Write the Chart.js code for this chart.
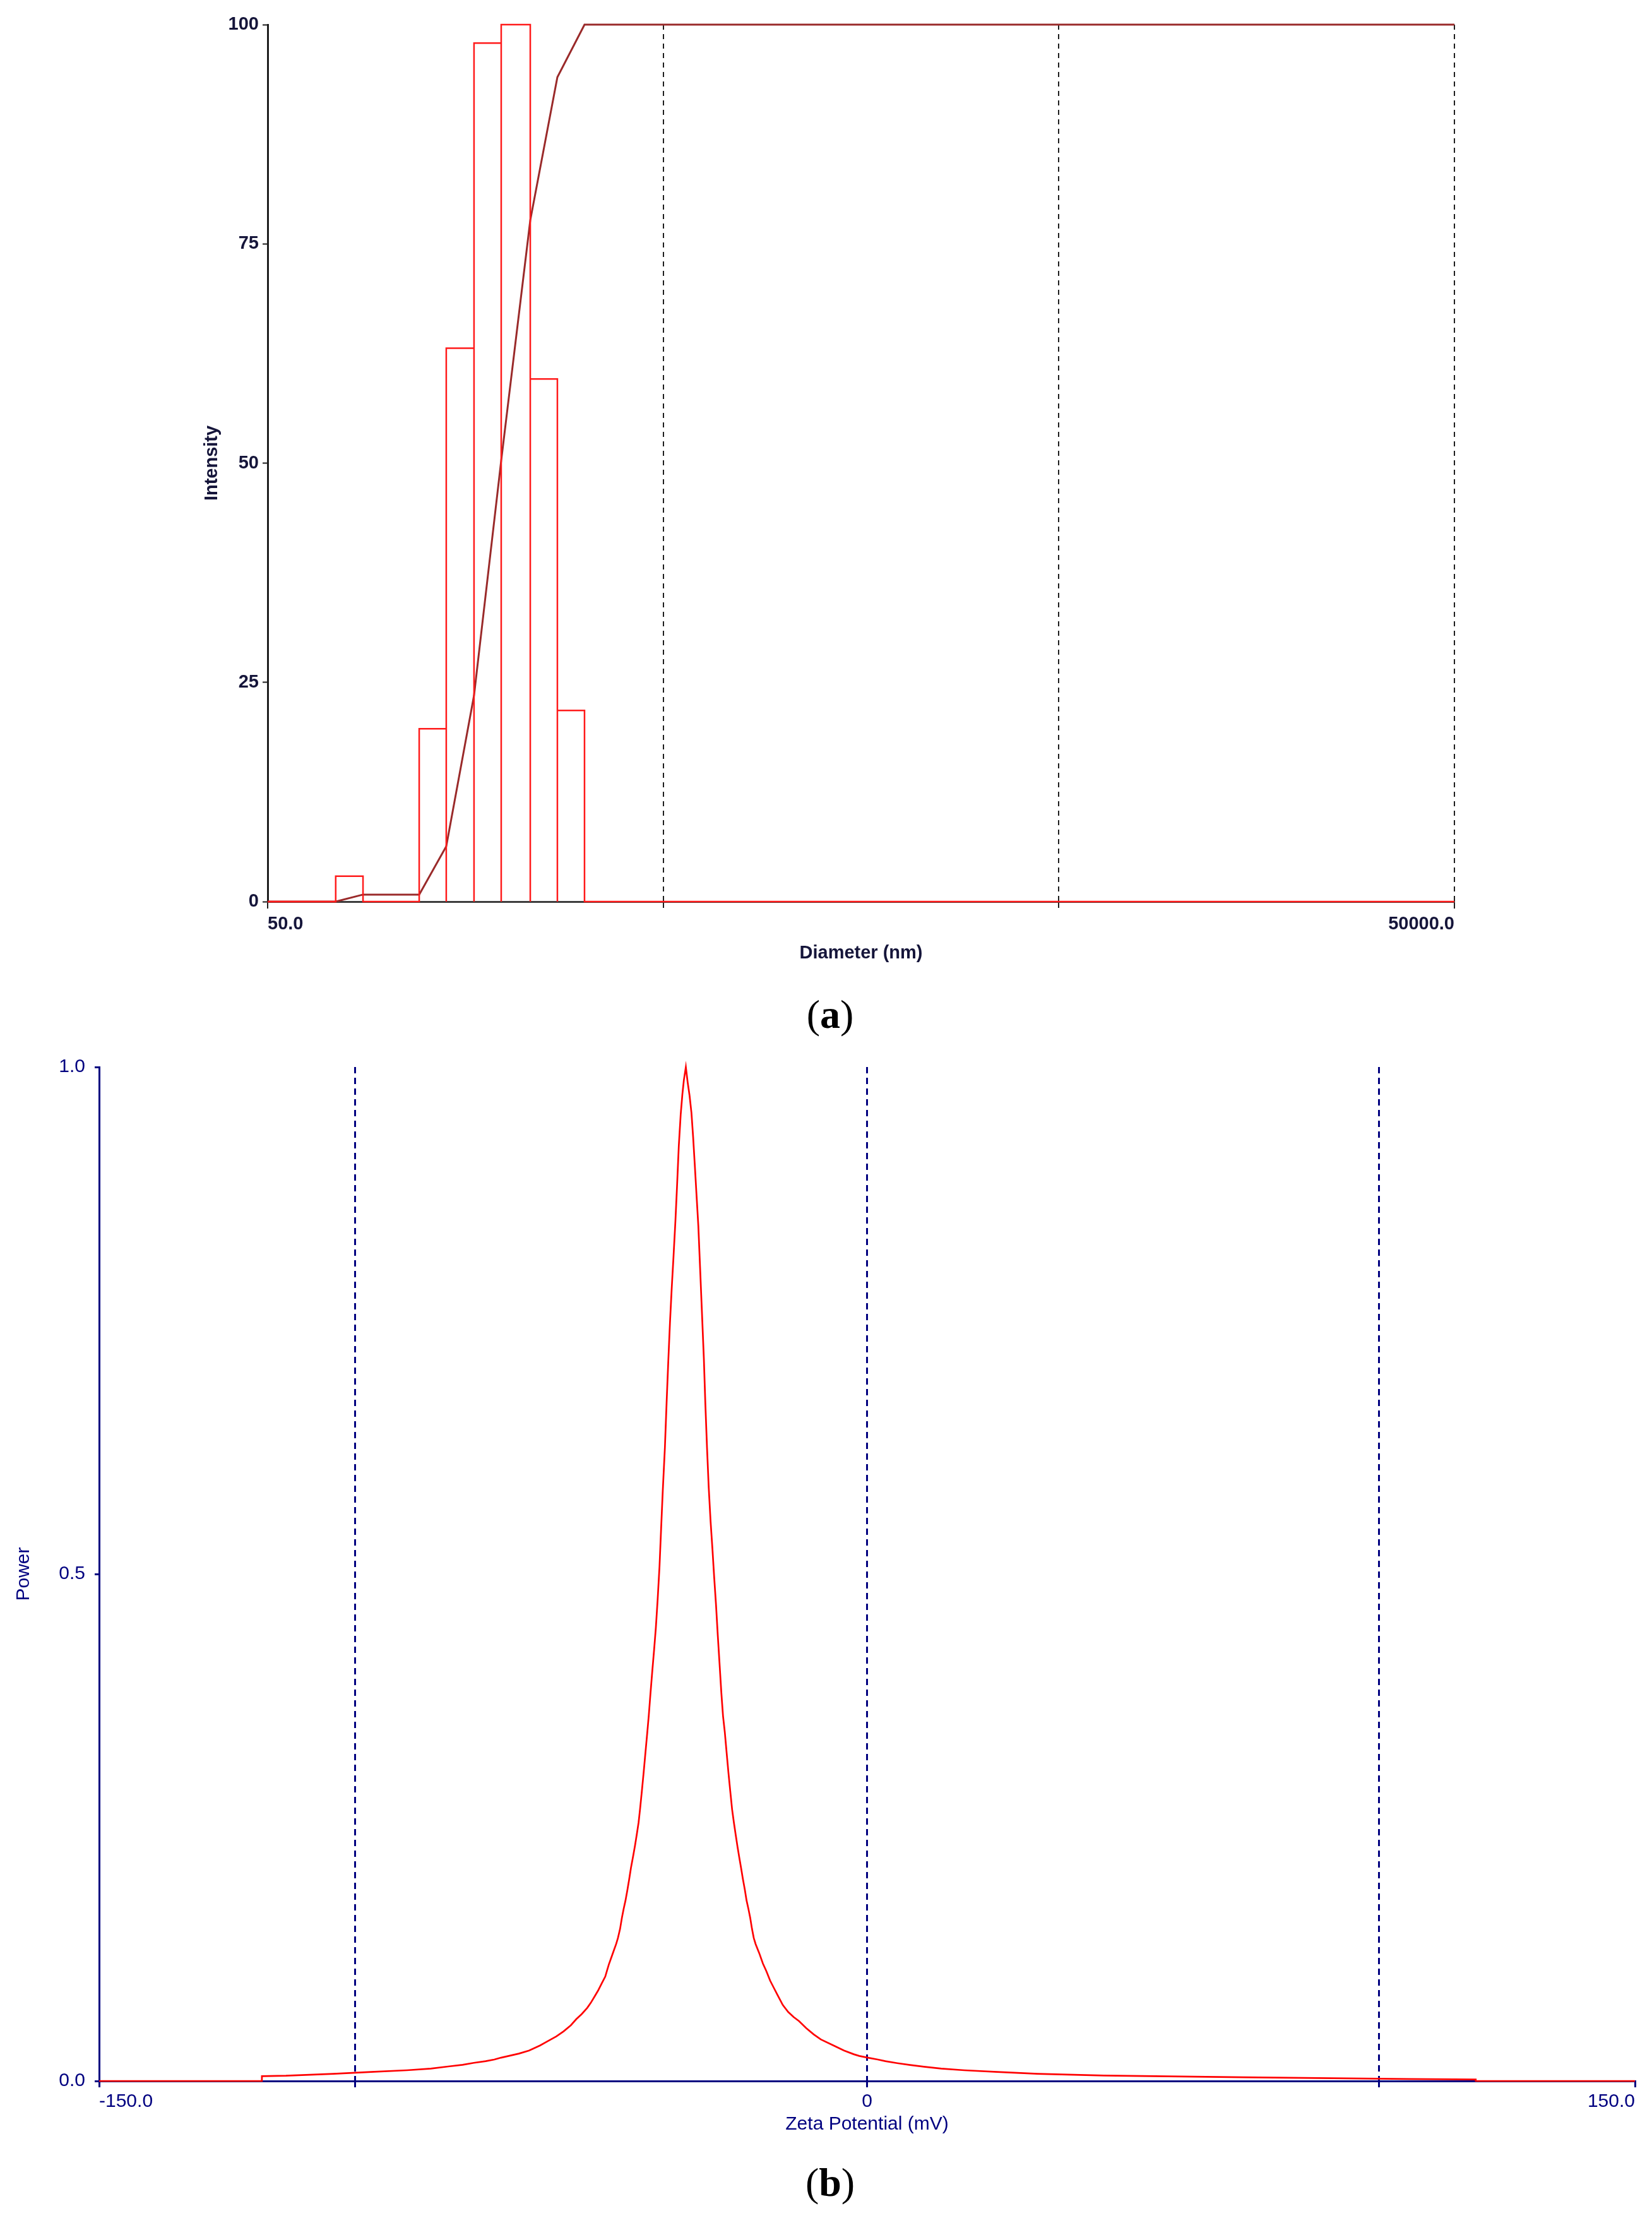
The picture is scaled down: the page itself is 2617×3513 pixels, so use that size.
<!DOCTYPE html>
<html>
<head>
<meta charset="utf-8">
<title>Size distribution and zeta potential</title>
<script src="https://cdn.jsdelivr.net/npm/chart.js@4.4.1/dist/chart.umd.min.js"></script>
<style>
  html, body { margin: 0; padding: 0; background: #fff; }
  body { width: 2617px; height: 3513px; position: relative; overflow: hidden; }
  .panel { position: absolute; left: 0; width: 2617px; }
  #sizeBox { top: 0; height: 1560px; }
  #zetaBox { top: 1640px; height: 1780px; }
  .caption {
    position: absolute; left: 1315px; transform: translate(-50%, -50%);
    font-family: 'Liberation Serif', 'DejaVu Serif', serif; font-size: 64px; color: #000;
  }
</style>
</head>
<body>
<div class="panel" id="sizeBox"><canvas id="sizeChart"></canvas></div>
<div class="caption" style="top:1607px">(<b>a</b>)</div>
<div class="panel" id="zetaBox"><canvas id="zetaChart"></canvas></div>
<div class="caption" style="top:3457px">(<b>b</b>)</div>
<script>
// (a) particle size: histogram bins (nm) and intensity, plus the cumulative curve at the bin edges
const binEdges = [74.3, 87.1, 102.7, 120.8, 141.4, 166.2, 194.7, 230.6, 270.0, 316.2];
const binIntensity = [2.9, 0, 0, 19.7, 63.1, 97.9, 100, 59.6, 21.8];
const cumulative = [0, 0.8, 0.8, 0.8, 6.3, 23.5, 50.3, 77.7, 94.0, 100];
const diameterTicks = [50, 500, 5000, 50000];
const diameterLabels = ['50.0', '', '', '50000.0'];
const intensityTicks = [0, 25, 50, 75, 100];

// (b) zeta potential spectrum
const zetaMv = [-150, -118.2, -118.2, -113.5, -104.2, -96.2, -89.9, -85.2, -81.8, -79.0, -76.8, -74.5,
  -72.8, -71.5, -68.0, -66.0, -63.87, -62.47, -60.69, -59.27, -57.85, -56.79, -55.73, -54.67, -53.97,
  -53.26, -52.55, -51.85, -51.13, -50.78, -50.43, -50.07, -49.72, -49.37, -49.01, -48.66, -48.24,
  -47.88, -47.53, -47.18, -46.82, -46.46, -46.12, -45.68, -45.33, -44.98, -44.62, -44.34, -43.98,
  -43.64, -43.28, -42.92, -42.64, -42.32, -41.95, -41.58, -41.25, -40.91, -40.54, -40.22, -39.89,
  -39.48, -39.15, -38.82, -38.50, -38.16, -37.79, -37.42, -37.09, -36.77, -36.40, -36.07, -35.78,
  -35.39, -35.04, -34.67, -34.30, -33.97, -33.64, -33.32, -32.95, -32.61, -32.24, -31.87, -31.59,
  -31.26, -30.92, -30.56, -30.19, -29.86, -29.49, -29.16, -28.79, -28.46, -28.13, -27.78, -27.43,
  -27.07, -26.72, -26.36, -26.01, -25.66, -25.30, -24.94, -24.60, -24.24, -23.88, -23.53, -23.18,
  -22.82, -22.47, -22.12, -21.76, -21.05, -20.35, -19.64, -18.93, -18.22, -17.51, -16.46, -15.39,
  -14.33, -13.27, -11.85, -10.43, -9.03, -6.55, -4.5, -2.6, -1.5, 0.35, 2.1, 3.6, 5.9, 8.4, 11.1,
  14.5, 19.0, 25.4, 33.3, 46.3, 73.7, 105.7, 118.9, 118.9, 150];
const zetaPower = [0, 0, 0.0048, 0.0052, 0.0071, 0.0091, 0.0106, 0.0122, 0.0143, 0.0160, 0.0179, 0.0195,
  0.0212, 0.0230, 0.027, 0.030, 0.035, 0.039, 0.044, 0.049, 0.055, 0.061, 0.066, 0.072, 0.077,
  0.083, 0.089, 0.096, 0.103, 0.109, 0.115, 0.120, 0.125, 0.130, 0.135, 0.141, 0.150,
  0.161, 0.170, 0.178, 0.188, 0.199, 0.210, 0.222, 0.232, 0.243, 0.255, 0.268, 0.286,
  0.304, 0.324, 0.344, 0.360, 0.381, 0.404, 0.426, 0.447, 0.474, 0.507, 0.545, 0.583,
  0.625, 0.669, 0.710, 0.747, 0.781, 0.814, 0.849, 0.885, 0.922, 0.953, 0.973, 0.987,
  1.0, 0.985, 0.972, 0.955, 0.931, 0.903, 0.875, 0.843, 0.802, 0.757, 0.712, 0.669,
  0.625, 0.585, 0.552, 0.524, 0.497, 0.469, 0.440, 0.410, 0.383, 0.360, 0.344, 0.324,
  0.304, 0.286, 0.268, 0.255, 0.243, 0.231, 0.220, 0.210, 0.199, 0.189, 0.178, 0.170,
  0.161, 0.150, 0.141, 0.135, 0.126, 0.116, 0.108, 0.099, 0.092, 0.085, 0.075, 0.068,
  0.063, 0.059, 0.052, 0.046, 0.041, 0.035, 0.030, 0.0264, 0.0247, 0.0228, 0.0212, 0.0195, 0.0176, 0.0158, 0.0141,
  0.0122, 0.0106, 0.0089, 0.0071, 0.0054, 0.0037, 0.0019, 0.0015, 0, 0];
const zetaTicks = [-150, -100, 0, 100, 150];
const zetaLabels = ['-150.0', '', '0', '', '150.0'];
const powerTicks = [0, 0.5, 1];

Chart.defaults.font.family = "'Liberation Sans', Arial, sans-serif";
Chart.defaults.animation = false;

const darkText = '#15153a';
const navy = '#000080';
const clear = 'rgba(0,0,0,0)';

// bars as closed outlines along the zero line
const histPts = [{x: diameterTicks[0], y: 0}];
binIntensity.forEach((h, i) => {
  if (!h) return;
  histPts.push({x: binEdges[i], y: 0}, {x: binEdges[i], y: h},
               {x: binEdges[i + 1], y: h}, {x: binEdges[i + 1], y: 0});
});
histPts.push({x: diameterTicks[diameterTicks.length - 1], y: 0});

const cumPts = [{x: diameterTicks[0], y: 0}]
  .concat(binEdges.map((e, i) => ({x: e, y: cumulative[i]})))
  .concat([{x: diameterTicks[diameterTicks.length - 1], y: 100}]);

new Chart(document.getElementById('sizeChart'), {
  type: 'line',
  data: {
    datasets: [
      { data: histPts, borderColor: '#ff1a1a', borderWidth: 2.5, pointRadius: 0, tension: 0, fill: false, clip: false },
      { data: cumPts, borderColor: '#9a2a2a', borderWidth: 3, pointRadius: 0, tension: 0, fill: false, clip: false }
    ]
  },
  options: {
    responsive: true,
    maintainAspectRatio: false,
    layout: { padding: { left: 319, top: 39, right: 313, bottom: 0 } },
    plugins: { legend: { display: false }, tooltip: { enabled: false } },
    scales: {
      x: {
        type: 'logarithmic', min: 50, max: 50000,
        afterBuildTicks: s => { s.ticks = diameterTicks.map(v => ({value: v})); },
        afterFit: s => { s.height = 132; },
        grid: {
          color: c => c.index === 0 ? clear : '#1e1e1e',
          lineWidth: 2, tickLength: 11, tickWidth: 2, tickColor: '#1e1e1e',
          tickBorderDash: c => (c.index === 1 || c.index === 2) ? [8, 7] : []
        },
        border: { color: '#3c3c3c', width: 3, dash: [8, 7] },
        ticks: {
          autoSkip: false, maxRotation: 0, align: 'inner', padding: 8,
          color: darkText, font: { size: 29, weight: 'bold' },
          callback: (v, i) => diameterLabels[i]
        },
        title: { display: true, text: 'Diameter (nm)', color: darkText,
                 font: { size: 29, weight: 'bold' }, padding: { top: 0, bottom: 33 } }
      },
      y: {
        min: 0, max: 100,
        afterBuildTicks: s => { s.ticks = intensityTicks.map(v => ({value: v})); },
        afterFit: s => { s.width = 105; },
        grid: { drawOnChartArea: false, tickLength: 8, tickWidth: 2, tickColor: '#1e1e1e' },
        border: { color: '#1e1e1e', width: 3 },
        ticks: { padding: 6, color: darkText, font: { size: 29, weight: 'bold' } },
        title: { display: true, text: 'Intensity', color: darkText,
                 font: { size: 29, weight: 'bold' }, padding: { top: 0, bottom: 0 } }
      }
    }
  }
});

new Chart(document.getElementById('zetaChart'), {
  type: 'line',
  data: {
    datasets: [{
      data: zetaMv.map((x, i) => ({x: x, y: zetaPower[i]})),
      borderColor: '#ff0000', borderWidth: 2.7, pointRadius: 0, tension: 0, fill: false, clip: false
    }]
  },
  options: {
    responsive: true,
    maintainAspectRatio: false,
    layout: { padding: { left: 20, top: 50, right: 27, bottom: 0 } },
    plugins: { legend: { display: false }, tooltip: { enabled: false } },
    scales: {
      x: {
        type: 'linear', min: -150, max: 150,
        afterBuildTicks: s => { s.ticks = zetaTicks.map(v => ({value: v})); },
        afterFit: s => { s.height = 124; },
        grid: {
          color: c => (c.index === 0 || c.index === 4) ? clear : navy,
          lineWidth: 3, tickLength: 10, tickWidth: 3, tickColor: navy,
          tickBorderDash: c => (c.index === 0 || c.index === 4) ? [] : [10, 7]
        },
        border: { color: navy, width: 3, dash: [10, 7] },
        ticks: {
          autoSkip: false, maxRotation: 0, align: 'inner', padding: 5,
          color: navy, font: { size: 30 },
          callback: (v, i) => zetaLabels[i]
        },
        title: { display: true, text: 'Zeta Potential (mV)', color: navy,
                 font: { size: 30 }, padding: { top: 0, bottom: 37 } }
      },
      y: {
        min: 0, max: 1,
        afterBuildTicks: s => { s.ticks = powerTicks.map(v => ({value: v})); },
        afterFit: s => { s.width = 137; },
        grid: { drawOnChartArea: false, tickLength: 7, tickWidth: 3, tickColor: navy },
        border: { color: navy, width: 3 },
        ticks: { padding: 15, color: navy, font: { size: 30 }, callback: v => v.toFixed(1) },
        title: { display: true, text: 'Power', color: navy,
                 font: { size: 30 }, padding: { top: 0, bottom: 0 } }
      }
    }
  }
});
</script>
</body>
</html>
